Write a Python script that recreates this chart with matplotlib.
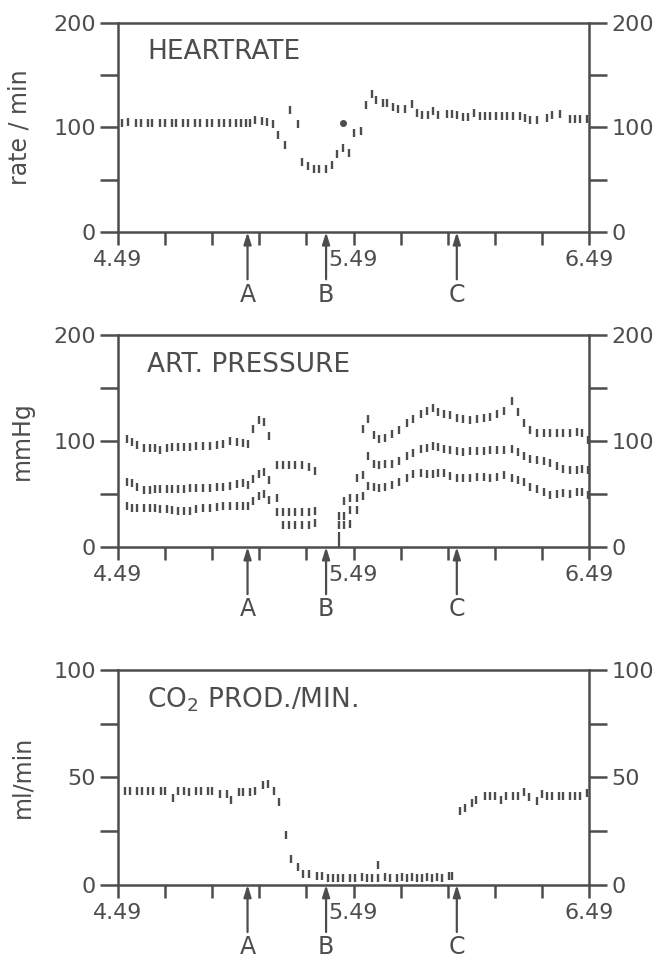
import numpy as np
import matplotlib
matplotlib.use('Agg')
import matplotlib.pyplot as plt

plt.rcParams['font.family'] = ['DejaVu Sans']
plt.rcParams['mathtext.fontset'] = 'dejavusans'

INK = '#4d4d4d'

# time axis: minutes after 4.49
x_ticks = [0, 12, 24, 36, 48, 60, 72, 84, 96, 108, 120]
x_labels = ['4.49', '', '', '', '', '5.49', '', '', '', '', '6.49']
event_t = [33, 53, 86.3]
event_names = ['A', 'B', 'C']

# heart rate
hr_t = [1.1, 2.6, 4.5, 5.9, 7.6, 8.7, 10.7, 12.0, 13.8, 14.9,
        16.6, 17.9, 19.6, 20.9, 22.6, 23.9, 25.7, 27.1, 28.5, 30.0,
        31.3, 32.5, 33.6, 34.9, 36.6, 37.9, 39.6, 40.7, 42.5, 43.8,
        45.8, 46.8, 48.5, 50.0, 51.2, 53.1, 54.4, 55.9, 57.2, 58.9,
        60.2, 61.9, 63.2, 64.6, 65.7, 67.4, 68.4, 70.1, 71.4, 73.1,
        74.8, 76.1, 77.4, 78.9, 80.3, 81.6, 83.7, 85.0, 86.3, 87.8,
        89.2, 90.7, 92.2, 93.5, 94.8, 96.3, 97.7, 99.0, 100.7, 102.4,
        103.7, 105.0, 106.7, 109.2, 110.5, 112.6, 115.1, 116.4, 117.7, 119.4]
hr_v = [104, 105, 104, 104.5, 104, 104, 104, 104, 104, 104,
        104, 104, 104, 104, 104, 104, 104, 104, 104, 104,
        104, 104, 104, 107, 106, 105.5, 103, 93, 83, 117,
        103, 67, 63, 60, 60, 60, 64, 75, 80, 76,
        95, 97, 121, 132, 126, 123, 123, 120, 117.5, 118,
        122, 114, 112, 112, 116, 112, 113, 113, 112, 110,
        110, 114, 111, 111, 111, 111, 111, 111, 111, 111,
        109, 107, 107.5, 109.5, 112, 113, 108, 108, 108, 108.5]
hr_dot_t = [57.2]
hr_dot_v = [104]

# arterial pressure (systolic / mean / diastolic)
ap_t_pre = [2.2, 3.5, 4.8, 6.7, 8.1, 9.4, 10.7, 12.4, 13.7, 15.4,
            16.8, 18.3, 20.0, 21.7, 23.4, 25.1, 26.8, 28.5, 30.2, 31.8,
            33.2, 34.5, 35.9, 37.3, 38.5, 40.6, 42.1, 43.6, 45.1, 46.8,
            48.7, 50.2]
sys_pre = [101.6, 99, 96, 93, 93, 93, 91.5, 93.5, 94, 94,
           94.5, 94.5, 95, 95, 95, 96, 97.5, 100, 99, 98,
           97, 111, 120, 118, 105, 77, 77, 77, 77, 77,
           75.5, 72]
mean_pre = [61, 60, 56.5, 54, 54, 54.5, 55, 55, 55, 54.5,
            55, 55.5, 56, 56, 56, 56.5, 57, 58, 59, 60,
            58.7, 64, 69, 71, 63.5, 46, 33, 33, 33, 33,
            33, 34]
dia_pre = [38.6, 37, 37, 37, 36.5, 37, 36, 36, 35, 34,
           34, 34, 36, 36.5, 36.5, 38, 39, 39, 39, 39,
           39, 43.7, 48, 50, 44, 33, 21, 21, 21, 21,
           21, 23]
ap_t_post = [56.2, 57.6, 59.1, 60.8, 62.3, 63.8, 65.2, 66.6, 68.0, 69.7,
             71.7, 73.5, 75.2, 77.1, 78.6, 80.3, 81.6, 83.0, 84.6, 86.3,
             88.0, 89.7, 91.4, 93.1, 94.8, 96.5, 98.3, 100.3, 102.0, 103.3,
             105.0, 106.7, 108.4, 110.1, 111.7, 113.4, 115.1, 116.8, 118.1, 119.8]
sys_post = [29, 43, 46, 65, 111, 121, 106, 102, 103, 107,
            110, 117, 121, 125.5, 128, 131, 127, 125.5, 125, 122,
            121, 120, 121, 122, 123, 125.5, 128.5, 138, 127, 117,
            110, 108, 107.5, 108, 107.5, 107.5, 108, 108.5, 108, 101]
mean_post = [20.5, 29, 35, 46, 68, 86, 78, 77, 78, 78.5,
             81, 85.5, 89, 92.5, 93.5, 95, 94, 92.5, 92, 90.5,
             89.5, 90.5, 90.5, 91, 92, 92, 92, 92.5, 89.5, 85.5,
             83, 82, 81, 79, 76, 73.5, 72.5, 73, 73.5, 72.5]
dia_post = [np.nan, 20.5, 22, 35, 48, 57.5, 56.5, 55.5, 57, 58.5,
            61, 65, 69, 70, 69, 69, 70, 70, 67, 65.5,
            65, 65, 66.5, 66.5, 65.5, 66.5, 68, 65, 63, 61,
            56.5, 54.5, 52, 49, 50, 50.5, 50, 51.5, 52, 49]
ap_spike_t = [56.2]
ap_spike_top = [14]

# CO2 production
co2_t = [1.8, 3.1, 4.8, 6.0, 7.7, 9.0, 11.0, 12.0, 14.1, 15.2,
         16.9, 18.1, 20.0, 21.1, 23.0, 24.0, 26.0, 27.7, 28.9, 30.8,
         31.9, 33.6, 34.9, 37.0, 38.1, 39.7, 41.0, 42.7, 44.1, 45.8,
         47.2, 48.7, 50.6, 51.9, 53.6, 54.8, 56.1, 57.4, 59.1,
         60.4, 62.1, 63.4, 64.6, 66.1, 66.3, 68.0, 69.3, 71.0, 72.3,
         73.5, 74.8, 76.1, 77.4, 78.6, 79.9, 81.2, 82.5, 84.2, 85.0,
         87.1, 88.4, 90.1, 91.2, 93.5, 94.8, 96.0, 97.5, 98.8, 100.5,
         102.0, 103.4, 104.8, 106.7, 107.9, 109.2, 110.5, 112.2, 113.4, 115.1,
         116.4, 117.7, 119.4]
co2_v = [43.4, 43.4, 43.4, 43.4, 43.4, 43.4, 43.4, 43.4, 40.3, 43.4,
         43.8, 43, 43.4, 43.4, 43.4, 43.4, 42, 42, 39.6, 43,
         43, 43.2, 43.4, 46.5, 46.8, 43.8, 38.3, 23.3, 12.1, 8.1,
         5, 5, 3.9, 3.9, 3.1, 3.1, 3.1, 3.1, 3.1,
         3.1, 3.5, 3.1, 3.1, 9, 3.1, 3.5, 3.1, 3.1, 3.5,
         3.1, 3.5, 3.1, 3.1, 3.5, 3.1, 3.5, 3.1, 3.9, 3.9,
         34.4, 35.7, 38, 39.5, 41.1, 41.1, 41.1, 39.5, 41.5, 41.1,
         41.5, 43.1, 40.8, 38.8, 42, 41.1, 41.1, 41.1, 41.1, 41.5,
         41.5, 41.5, 42.7]


def dashes(ax, t, v):
    ax.plot(t, v, ls='none', marker='|', ms=5.5, mew=1.7, color=INK,
            clip_on=False)


def setup_panel(ax, ymax, ylabel, title, label_x):
    ax.set_xlim(0, 120)
    ax.set_ylim(0, ymax)
    ax.set_xticks(x_ticks)
    ax.set_xticklabels(x_labels)
    step = ymax / 4
    ax.set_yticks([0, step, 2 * step, 3 * step, ymax])
    ax.set_yticklabels(['0', '', str(int(2 * step)), '', str(int(ymax))])
    for s in ax.spines.values():
        s.set_linewidth(1.8)
        s.set_color(INK)
    ax.tick_params(axis='y', left=True, right=True, labelleft=True,
                   labelright=True, direction='out', length=13, width=1.8,
                   pad=3, labelsize=16, colors=INK)
    ax.tick_params(axis='x', direction='out', length=9, width=1.8,
                   pad=4, labelsize=16, colors=INK)
    ax.set_ylabel(ylabel, fontsize=17, color=INK)
    ax.yaxis.set_label_coords(label_x, 0.5)
    ax.text(0.062, 0.825, title, transform=ax.transAxes, fontsize=19,
            color=INK, va='baseline', ha='left')
    for t, name in zip(event_t, event_names):
        ax.annotate('', xy=(t, 0), xycoords=('data', 'axes fraction'),
                    xytext=(0, -34), textcoords='offset points',
                    arrowprops=dict(arrowstyle='-|>,head_length=0.7,head_width=0.22',
                                    lw=1.6, color=INK, shrinkA=0, shrinkB=0,
                                    mutation_scale=10))
        ax.annotate(name, xy=(t, 0), xycoords=('data', 'axes fraction'),
                    xytext=(0, -45), textcoords='offset points', fontsize=17,
                    color=INK, ha='center', va='center')


fig = plt.figure(figsize=(6.59, 9.63), dpi=100)
ax1 = fig.add_axes([0.179, 0.759, 0.715, 0.2173])
ax2 = fig.add_axes([0.179, 0.432, 0.715, 0.2200])
ax3 = fig.add_axes([0.179, 0.0812, 0.715, 0.2233])

setup_panel(ax1, 200, 'rate / min', 'HEARTRATE', -0.183)
dashes(ax1, hr_t, hr_v)
ax1.plot(hr_dot_t, hr_dot_v, ls='none', marker='o', ms=4, color=INK)

setup_panel(ax2, 200, 'mmHg', 'ART. PRESSURE', -0.178)
for t, v in [(ap_t_pre, sys_pre), (ap_t_pre, mean_pre), (ap_t_pre, dia_pre),
             (ap_t_post, sys_post), (ap_t_post, mean_post), (ap_t_post, dia_post)]:
    dashes(ax2, t, v)
ax2.vlines(ap_spike_t, 0, ap_spike_top, color=INK, lw=1.6)

setup_panel(ax3, 100, 'ml/min', r'CO$_2$ PROD./MIN.', -0.178)
dashes(ax3, co2_t, co2_v)

fig.savefig('out.png', dpi=100, facecolor='white')
